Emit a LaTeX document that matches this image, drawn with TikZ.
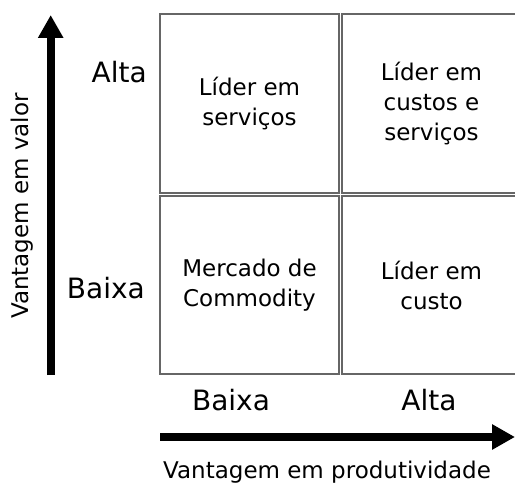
\documentclass[tikz,border=0pt]{standalone}
\usepackage{fontspec}
\setmainfont{DejaVu Sans}
\usetikzlibrary{arrows.meta}

\tikzset{
    quadrant/.style={draw=black!60, line width=1.4pt, minimum width=179pt, minimum height=179pt, align=center, inner sep=0pt},
    axis/.style={line width=8pt, -{Triangle[width=24pt,length=23pt]}},
    lbl/.style={font=\fontsize{23}{30}\selectfont},
    level/.style={font=\fontsize{28}{34}\selectfont}
}

\begin{document}
\begin{tikzpicture}[x=1pt,y=-1pt,lbl]
        \useasboundingbox (0,0) rectangle (515,487);

        \node[quadrant] (servicos) at (249.5,103.5) {Líder em\\serviços};
        \node[quadrant] (ambos) at (431.5,103.5) {Líder em\\custos e\\serviços};
        \node[quadrant,minimum height=178pt] (commodity) at (249.5,285) {Mercado de\\Commodity};
        \node[quadrant,minimum height=178pt] (custo) at (431.5,285) {Líder em\\custo};

        \coordinate (ybot) at (50.7,375);
        \coordinate (ytop) at (50.7,15);
        \coordinate (xleft) at (160,437);
        \coordinate (xright) at (515,437);
        \draw[axis] (ybot) -- (ytop);
        \draw[axis] (xleft) -- (xright);

        \node[level,left,inner sep=0pt] (yalta) at (147,72) {Alta};
        \node[level,left,inner sep=0pt] (ybaixa) at (145,288) {Baixa};
        \node[rotate=90] (ytitulo) at (22,206) {Vantagem em valor};

        \node[level] (xbaixa) at (231,400) {Baixa};
        \node[level] (xalta) at (429,400) {Alta};
        \node (xtitulo) at (327,472) {Vantagem em produtividade};
    \end{tikzpicture}
\end{document}
